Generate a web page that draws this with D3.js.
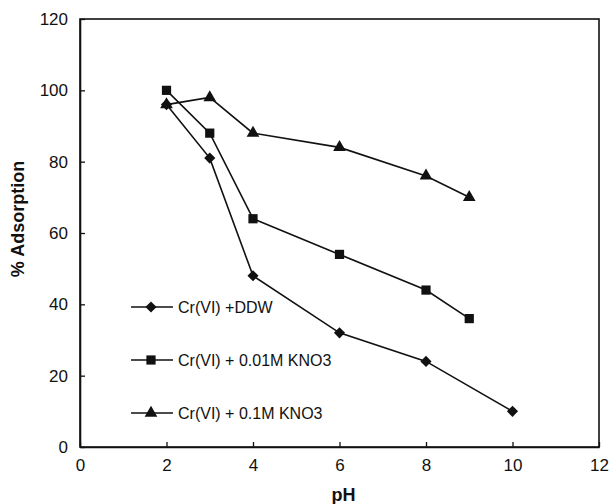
<!DOCTYPE html>
<html>
<head>
<meta charset="utf-8">
<script src="https://cdn.jsdelivr.net/npm/d3@7"></script>
<style>
  body { margin: 0; background: #fff; }
  text { font-family: Arial, "Liberation Sans", sans-serif; fill: #111; }
</style>
</head>
<body>
<div id="chart"></div>
<script>
// Data
const seriesNames = ["Cr(VI) +DDW", "Cr(VI) + 0.01M KNO3", "Cr(VI) + 0.1M KNO3"];
const phDDW = [2, 3, 4, 6, 8, 10];
const adsDDW = [96, 81, 48, 32, 24, 10];
const phKNO3low = [2, 3, 4, 6, 8, 9];
const adsKNO3low = [100, 88, 64, 54, 44, 36];
const phKNO3high = [2, 3, 4, 6, 8, 9];
const adsKNO3high = [96, 98, 88, 84, 76, 70];
const xTicks = [0, 2, 4, 6, 8, 10, 12];
const yTicks = [0, 20, 40, 60, 80, 100, 120];

const width = 609, height = 504;
const margin = { left: 80, top: 19, right: 10, bottom: 57 };

const svg = d3.select("#chart").append("svg")
  .attr("width", width)
  .attr("height", height);

//#region Scales
const x = d3.scaleLinear().domain([0, 12]).range([margin.left, width - margin.right]);
const y = d3.scaleLinear().domain([0, 120]).range([height - margin.bottom, margin.top]);
//#endregion

//#region Frame and axes (ticks point inward)
svg.append("rect")
  .attr("x", x(0)).attr("y", y(120))
  .attr("width", x(12) - x(0)).attr("height", y(0) - y(120))
  .attr("fill", "none").attr("stroke", "#111").attr("stroke-width", 1.6);

const axisX = d3.axisBottom(x).tickValues(xTicks).tickSizeInner(-5).tickSizeOuter(0).tickPadding(12);
const axisY = d3.axisLeft(y).tickValues(yTicks).tickSizeInner(-5).tickSizeOuter(0).tickPadding(12);

const gx = svg.append("g").attr("transform", `translate(0,${y(0)})`).call(axisX);
const gy = svg.append("g").attr("transform", `translate(${x(0)},0)`).call(axisY);
[gx, gy].forEach(g => {
  g.select(".domain").attr("stroke", "#111").attr("stroke-width", 1.6);
  g.selectAll(".tick line").attr("stroke", "#111").attr("stroke-width", 1.3);
  g.selectAll(".tick text").style("font-size", "17px").attr("fill", "#111");
});
//#endregion

//#region Axis titles
svg.append("text")
  .text("pH")
  .attr("x", (x(0) + x(12)) / 2 + 4)
  .attr("y", 501)
  .attr("text-anchor", "middle")
  .style("font-size", "18px")
  .style("font-weight", "bold");

svg.append("text")
  .text("% Adsorption")
  .attr("transform", `translate(24,${219}) rotate(-90)`)
  .attr("text-anchor", "middle")
  .style("font-size", "18px")
  .style("font-weight", "bold");
//#endregion

//#region Series
const symbols = [
  { type: d3.symbolSquare, size: 62, rotate: 45 },
  { type: d3.symbolSquare, size: 85, rotate: 0 },
  { type: d3.symbolTriangle, size: 70, rotate: 0 }
];
const series = [
  { ph: phDDW, ads: adsDDW },
  { ph: phKNO3low, ads: adsKNO3low },
  { ph: phKNO3high, ads: adsKNO3high }
];

const line = d3.line().x(d => x(d[0])).y(d => y(d[1]));

series.forEach((s, i) => {
  const pts = s.ph.map((p, j) => [p, s.ads[j]]);
  svg.append("path")
    .datum(pts)
    .attr("d", line)
    .attr("fill", "none")
    .attr("stroke", "#111")
    .attr("stroke-width", 1.6);
  svg.selectAll(null)
    .data(pts)
    .enter()
    .append("path")
    .attr("d", d3.symbol().type(symbols[i].type).size(symbols[i].size))
    .attr("transform", d => `translate(${x(d[0])},${y(d[1])}) rotate(${symbols[i].rotate})`)
    .attr("fill", "#111");
});
//#endregion

//#region Legend
const legendRows = [307, 360, 413];
const legend = svg.append("g");
seriesNames.forEach((name, i) => {
  const row = legend.append("g").attr("transform", `translate(131,${legendRows[i]})`);
  row.append("line")
    .attr("x1", 0).attr("x2", 42)
    .attr("stroke", "#111").attr("stroke-width", 1.6);
  row.append("path")
    .attr("d", d3.symbol().type(symbols[i].type).size(symbols[i].size))
    .attr("transform", `translate(20,0) rotate(${symbols[i].rotate})`)
    .attr("fill", "#111");
  row.append("text")
    .text(name)
    .attr("x", 47)
    .attr("dy", "0.35em")
    .style("font-size", "16px");
});
//#endregion
</script>
</body>
</html>
